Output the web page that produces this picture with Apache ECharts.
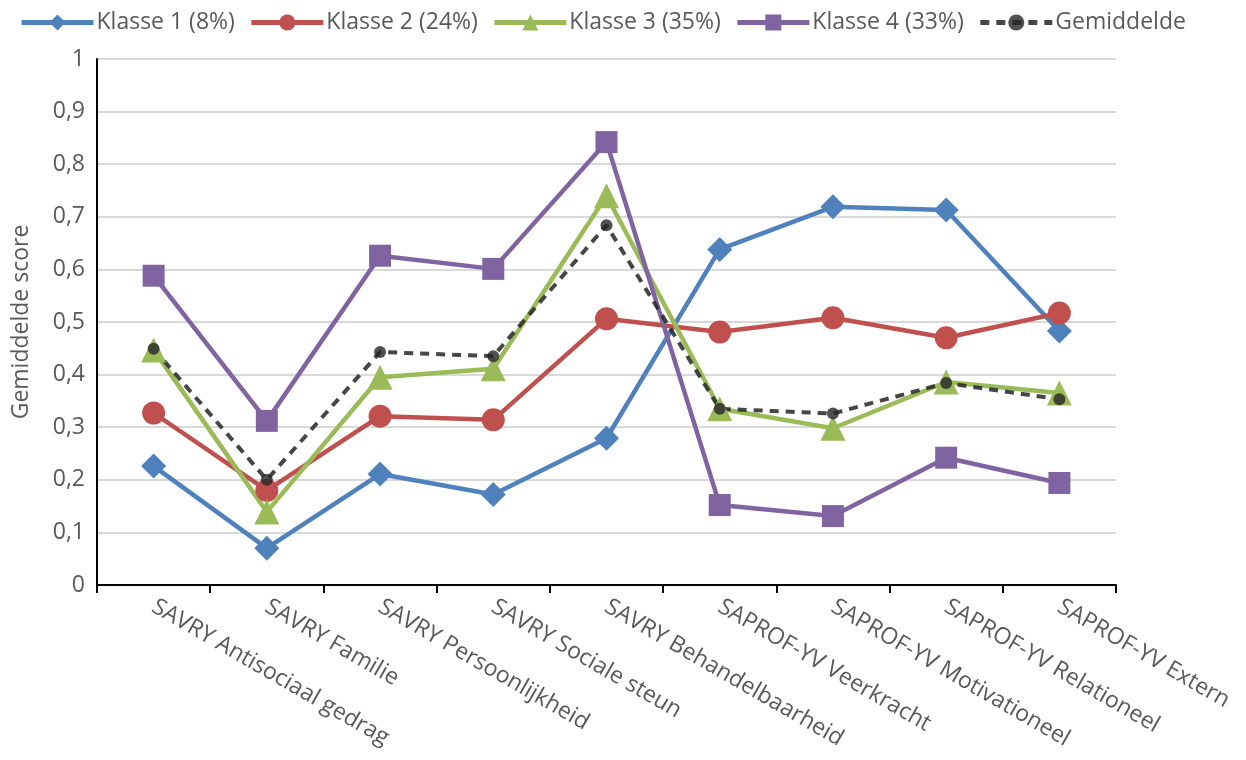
<!DOCTYPE html>
<html>
<head>
<meta charset="utf-8">
<script src="https://cdn.jsdelivr.net/npm/echarts@6/dist/echarts.min.js"></script>
<style>
  html, body { margin: 0; padding: 0; background: #fff; }
  #chart { width: 1246px; height: 760px; }
</style>
</head>
<body>
<div id="chart"></div>
<script>
// Categories along the x-axis
const categories = [
  'SAVRY Antisociaal gedrag',
  'SAVRY Familie',
  'SAVRY Persoonlijkheid',
  'SAVRY Sociale steun',
  'SAVRY Behandelbaarheid',
  'SAPROF-YV Veerkracht',
  'SAPROF-YV Motivationeel',
  'SAPROF-YV Relationeel',
  'SAPROF-YV Extern'
];

// Mean scores per latent class
const klasse1 = [0.226, 0.070, 0.211, 0.172, 0.279, 0.638, 0.719, 0.713, 0.483];
const klasse2 = [0.327, 0.180, 0.321, 0.314, 0.506, 0.481, 0.508, 0.470, 0.517];
const klasse3 = [0.447, 0.139, 0.395, 0.411, 0.740, 0.335, 0.298, 0.386, 0.365];
const klasse4 = [0.588, 0.312, 0.626, 0.601, 0.842, 0.152, 0.131, 0.242, 0.194];
const gemiddelde = [0.449, 0.200, 0.443, 0.435, 0.684, 0.335, 0.326, 0.384, 0.353];

// Y-axis tick labels (Dutch decimal comma)
const yTicks = ['0', '0,1', '0,2', '0,3', '0,4', '0,5', '0,6', '0,7', '0,8', '0,9', '1'];

const FONT = 'Open Sans';
const FS = 23;
const TEXT = '#595959';

function classSeries(name, data, color, symbol, size) {
  return {
    name, type: 'line', data,
    symbol, symbolSize: size,
    lineStyle: { color, width: 4.5 },
    itemStyle: { color },
    emphasis: { disabled: true }
  };
}

const chart = echarts.init(document.getElementById('chart'));
chart.setOption({
  animation: false,
  textStyle: { fontFamily: FONT },
  legend: {
    top: 6, left: 14,
    itemWidth: 72, itemHeight: 20, itemGap: 14,
    lineStyle: { width: 5 },
    textStyle: { fontFamily: FONT, fontSize: FS, color: TEXT, padding: [0, 0, 0, -2] },
    data: ['Klasse 1 (8%)', 'Klasse 2 (24%)', 'Klasse 3 (35%)', 'Klasse 4 (33%)', 'Gemiddelde']
  },
  grid: { left: 97, right: 130, top: 59, bottom: 175 },
  xAxis: {
    type: 'category', data: categories, boundaryGap: true,
    axisLine: { lineStyle: { color: '#000', width: 2 } },
    axisTick: { show: true, length: 8, lineStyle: { color: '#000', width: 2 } },
    axisLabel: {
      rotate: -30, fontSize: FS, color: TEXT, fontFamily: FONT,
      interval: 0, margin: 20
    }
  },
  yAxis: {
    type: 'value', min: 0, max: 1, interval: 0.1,
    name: 'Gemiddelde score', nameLocation: 'middle', nameGap: 64, nameRotate: 90,
    nameTextStyle: { fontSize: FS, color: TEXT, fontFamily: FONT },
    axisLine: { show: true, lineStyle: { color: '#000', width: 2 } },
    axisTick: { show: false },
    axisLabel: {
      fontSize: FS, color: TEXT, fontFamily: FONT, margin: 12,
      formatter: (v) => yTicks[Math.round(v * 10)]
    },
    splitLine: { lineStyle: { color: '#d9d9d9', width: 2 } }
  },
  series: [
    classSeries('Klasse 1 (8%)', klasse1, '#4F81BD', 'diamond', 25),
    classSeries('Klasse 2 (24%)', klasse2, '#C0504D', 'circle', 23),
    classSeries('Klasse 3 (35%)', klasse3, '#9BBB59', 'triangle', 25),
    classSeries('Klasse 4 (33%)', klasse4, '#8064A2', 'rect', 22),
    {
      name: 'Gemiddelde', type: 'line', data: gemiddelde,
      symbol: 'circle', symbolSize: 12,
      lineStyle: { color: 'rgba(38,38,38,0.85)', width: 4, type: [9, 7] },
      itemStyle: { color: 'rgba(38,38,38,0.8)' },
      emphasis: { disabled: true }
    }
  ]
});
</script>
</body>
</html>
